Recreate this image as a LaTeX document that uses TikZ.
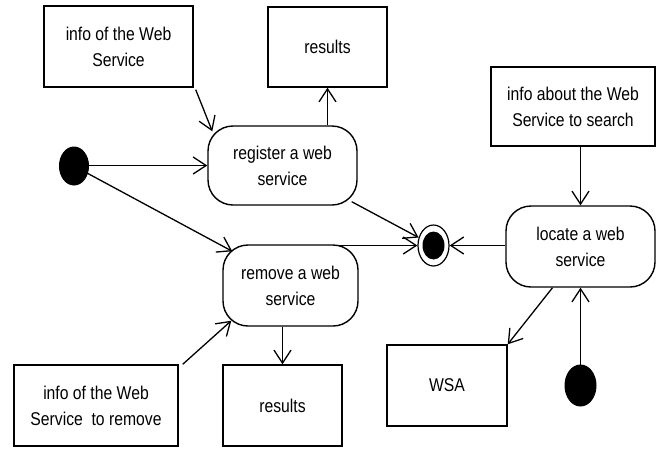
\documentclass[tikz,border=0pt]{standalone}
\usepackage{fontspec}
\setmainfont{Liberation Sans}[FakeStretch=0.85]
\usetikzlibrary{arrows.meta,shapes.geometric}
\begin{document}
\begin{tikzpicture}[x=1pt,y=-1pt,
  every node/.style={font=\fontsize{18.5}{26}\selectfont, align=center, inner sep=0pt},
  obj/.style={draw, line width=1.4pt, rectangle},
  act/.style={draw, line width=1.4pt, rectangle, rounded corners=25pt},
  dot/.style={draw, fill=black, ellipse, line width=1pt},
  arr/.style={line width=1.3pt, -{Straight Barb[length=13pt,width=17pt,line width=1.3pt]}}
]
\useasboundingbox (0,0) rectangle (661,448);
\fill[white] (0,0) rectangle (661,448);

\node[obj, minimum width=149pt, minimum height=81pt] (info1) at (118.5,46.5) {info of the Web\\Service};
\node[obj, minimum width=119pt, minimum height=80pt] (res1) at (327.5,47) {results};
\node[act, minimum width=149pt, minimum height=79pt] (reg) at (282.5,165.5) {register a web\\service};
\node[act, minimum width=135pt, minimum height=81pt] (remove) at (290.5,285.5) {remove a web\\service};
\node[obj, minimum width=164pt, minimum height=81pt] (inforem) at (96,405.5) {info of the Web\\Service\ \ to remove};
\node[obj, minimum width=119pt, minimum height=81pt] (res2) at (282.5,405.5) {results};
\node[obj, minimum width=120pt, minimum height=81pt] (wsa) at (447,385.5) {WSA};
\node[obj, minimum width=164pt, minimum height=79pt] (infoab) at (573,106.5) {info about the Web\\Service to search};
\node[act, minimum width=149pt, minimum height=81pt] (locate) at (580.5,246.5) {locate a web\\service};

\node[dot, minimum width=29pt, minimum height=38pt] (dot1) at (74,166) {};
\node[dot, minimum width=31pt, minimum height=41pt] (dot2) at (580.5,385.5) {};
\node[draw, ellipse, line width=1.2pt, fill=white, minimum width=31pt, minimum height=41pt] (final) at (433.5,245.5) {};
\node[ellipse, fill=black, minimum width=22pt, minimum height=28pt] (finalin) at (433.5,245.5) {};

% connectors
\draw[arr] ([shift={(2,2)}]info1.south east) -- ([shift={(5,6)}]reg.north west);
\draw[arr] (dot1.east |- reg.west) -- (reg.west);
\draw[arr] (dot1) -- ([shift={(10,7)}]remove.north west);
\draw[arr] (reg.north -| res1.south) -- (res1.south);
\draw[arr] ([shift={(-6,-4)}]reg.south east) -- (final);
\coordinate (rmtop) at ([xshift=-20]remove.north east);
\draw[arr] (rmtop |- final.west) -- (final.west);
\draw[arr] (locate.west |- final.east) -- (final.east);
\draw[arr] (infoab.south -| locate.north) -- (locate.north);
\draw[arr] ([xshift=-28]locate.south) -- (wsa.north east);
\draw[arr] (dot2) -- (locate.south);
\draw[arr] ([xshift=4]inforem.north east) -- ([shift={(9,-6)}]remove.south west);
\draw[arr] (remove.south -| res2.north) -- (res2.north);
\end{tikzpicture}
\end{document}
